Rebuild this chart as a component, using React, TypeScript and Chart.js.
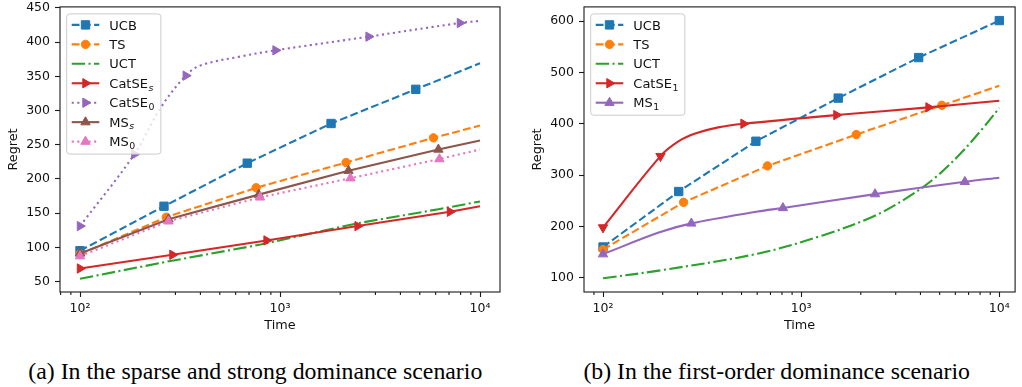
import React, { useEffect, useRef } from 'react';
import { Chart, registerables } from 'chart.js';

Chart.register(...registerables);

// ---------------- (a) sparse and strong dominance scenario ----------------
const A_UCB_T = [100, 263, 686, 1800, 4775, 10000];
const A_UCB_V = [95, 160, 223, 281, 331, 369];
const A_UCB_MARKS = [0, 1, 2, 3, 4];

const A_TS_T = [100, 270, 760, 2140, 5850, 10000];
const A_TS_V = [90, 144, 187, 224, 260, 278];
const A_TS_MARKS = [0, 1, 2, 3, 4];

const A_UCT_T = [100, 273, 800, 2430, 6300, 10000];
const A_UCT_V = [54, 79, 104, 135, 156, 167];
const A_UCT_MARKS: number[] = [];

const A_CATSES_T = [100, 290, 857, 2445, 7080, 10000];
const A_CATSES_V = [69, 89, 110, 131, 152, 160];
const A_CATSES_MARKS = [0, 1, 2, 3, 4];

const A_CATSE0_T = [100, 187, 253, 338, 401, 635, 950, 2775, 7940, 10000];
const A_CATSE0_V = [131, 236, 304, 351, 366, 379, 388, 408, 428, 431];
const A_CATSE0_MARKS = [0, 1, 3, 6, 7, 8];

const A_MSS_T = [100, 277, 783, 2200, 6195, 10000];
const A_MSS_V = [91, 141, 177, 212, 243, 256];
const A_MSS_MARKS = [0, 1, 2, 3, 4];

const A_MS0_T = [100, 277, 795, 2250, 6270, 10000];
const A_MS0_V = [87, 138, 173, 201, 229, 243];
const A_MS0_MARKS = [0, 1, 2, 3, 4];

const A_Y_TICKS = [50, 100, 150, 200, 250, 300, 350, 400, 450];

// ---------------- (b) first-order dominance scenario ----------------
const B_UCB_T = [100, 241, 591, 1538, 3918, 10000];
const B_UCB_V = [160, 268, 366, 450, 529, 601];
const B_UCB_MARKS = [0, 1, 2, 3, 4, 5];

const B_TS_T = [100, 255, 676, 1897, 5130, 10000];
const B_TS_V = [155, 247, 318, 379, 436, 474];
const B_TS_MARKS = [0, 1, 2, 3, 4];

const B_UCT_T = [100, 199, 603, 1294, 2296, 3366, 4745, 6443, 8414, 10000];
const B_UCT_V = [99, 115, 147, 183, 219, 254, 295, 344, 395, 431];
const B_UCT_MARKS: number[] = [];

const B_CATSE1_T = [100, 195, 241, 292, 381, 512, 1507, 4395, 10000];
const B_CATSE1_V = [198, 337, 366, 381, 393, 400, 417, 432, 445];
const B_CATSE1_MARKS = [0, 1, 5, 6, 7];
const B_CATSE1_ANGLES = [180, 180];

const B_MS1_T = [100, 191, 279, 603, 809, 2361, 6700, 10000];
const B_MS1_V = [146, 188, 206, 229, 236, 263, 287, 295];
const B_MS1_MARKS = [0, 2, 4, 5, 6];

const B_Y_TICKS = [100, 200, 300, 400, 500, 600];

// ---------------- axis ticks ----------------
const X_MAJOR = [100, 1000, 10000];
const X_MAJOR_LABELS = ['10²', '10³', '10⁴'];
const X_MINOR_MULT = [2, 3, 4, 5, 6, 7, 8, 9];
const X_MINOR_DECADES = [10, 100, 1000];

// ---------------- styles ----------------
const C_BLUE = '#1f77b4';
const C_ORANGE = '#ff7f0e';
const C_GREEN = '#2ca02c';
const C_RED = '#d62728';
const C_PURPLE = '#9467bd';
const C_BROWN = '#8c564b';
const C_PINK = '#e377c2';

const LW = 2.1;
const DASHED = [7.8, 3.4];
const DOTTED = [2.1, 3.5];
const DASHDOT = [13.4, 3.4, 2.1, 3.4];
const SOLID: number[] = [];

const AXIS_COLOR = '#1a1a1a';
const TEXT_COLOR = '#111';
const FONT_FAMILY = '"DejaVu Sans", Verdana, sans-serif';
const TICK_FONT = { family: FONT_FAMILY, size: 12.5, lineHeight: 1.2 };
const TITLE_FONT = { family: FONT_FAMILY, size: 12.8, lineHeight: 1.2 };
const LEGEND_SIZE = 13;

type Series = {
  label: string;
  t: number[];
  v: number[];
  marks: number[];
  color: string;
  dash: number[];
  marker: string | null;
  radius: number;
  rot: number;
  angles?: number[];
  smooth?: boolean;
};

const SERIES_A: Series[] = [
  { label: 'UCB', t: A_UCB_T, v: A_UCB_V, marks: A_UCB_MARKS, color: C_BLUE, dash: DASHED, marker: 'rect', radius: 5.9, rot: 0 },
  { label: 'TS', t: A_TS_T, v: A_TS_V, marks: A_TS_MARKS, color: C_ORANGE, dash: DASHED, marker: 'circle', radius: 4.2, rot: 0 },
  { label: 'UCT', t: A_UCT_T, v: A_UCT_V, marks: A_UCT_MARKS, color: C_GREEN, dash: DASHDOT, marker: null, radius: 0, rot: 0 },
  { label: 'CatSE_s', t: A_CATSES_T, v: A_CATSES_V, marks: A_CATSES_MARKS, color: C_RED, dash: SOLID, marker: 'triangle', radius: 5.4, rot: 90 },
  { label: 'CatSE_0', t: A_CATSE0_T, v: A_CATSE0_V, marks: A_CATSE0_MARKS, color: C_PURPLE, dash: DOTTED, marker: 'triangle', radius: 5.4, rot: 90, smooth: true },
  { label: 'MS_s', t: A_MSS_T, v: A_MSS_V, marks: A_MSS_MARKS, color: C_BROWN, dash: SOLID, marker: 'triangle', radius: 5.4, rot: 0 },
  { label: 'MS_0', t: A_MS0_T, v: A_MS0_V, marks: A_MS0_MARKS, color: C_PINK, dash: DOTTED, marker: 'triangle', radius: 5.4, rot: 0 },
];

const SERIES_B: Series[] = [
  { label: 'UCB', t: B_UCB_T, v: B_UCB_V, marks: B_UCB_MARKS, color: C_BLUE, dash: DASHED, marker: 'rect', radius: 5.9, rot: 0 },
  { label: 'TS', t: B_TS_T, v: B_TS_V, marks: B_TS_MARKS, color: C_ORANGE, dash: DASHED, marker: 'circle', radius: 4.2, rot: 0 },
  { label: 'UCT', t: B_UCT_T, v: B_UCT_V, marks: B_UCT_MARKS, color: C_GREEN, dash: DASHDOT, marker: null, radius: 0, rot: 0, smooth: true },
  { label: 'CatSE_1', t: B_CATSE1_T, v: B_CATSE1_V, marks: B_CATSE1_MARKS, color: C_RED, dash: SOLID, marker: 'triangle', radius: 5.4, rot: 90, angles: B_CATSE1_ANGLES, smooth: true },
  { label: 'MS_1', t: B_MS1_T, v: B_MS1_V, marks: B_MS1_MARKS, color: C_PURPLE, dash: SOLID, marker: 'triangle', radius: 5.4, rot: 0, smooth: true },
];

function makeDatasets(series: Series[]) {
  return series.map((s, i) => ({
    label: s.label,
    data: s.t.map((t, k) => ({ x: t, y: s.v[k] })),
    borderColor: s.color,
    backgroundColor: s.color,
    borderWidth: LW,
    borderDash: s.dash,
    borderCapStyle: 'butt',
    borderJoinStyle: 'round',
    pointStyle: s.marker || 'circle',
    pointRadius: (c: any) => (s.marker && s.marks.includes(c.dataIndex) ? s.radius : 0),
    pointHoverRadius: 0,
    pointRotation: (c: any) => (s.angles && s.angles[c.dataIndex] !== undefined ? s.angles[c.dataIndex] : s.rot),
    pointBorderWidth: 1,
    pointBorderColor: s.color,
    pointBackgroundColor: s.color,
    tension: s.smooth ? 0.35 : 0,
    cubicInterpolationMode: 'default',
    fill: false,
    order: -i,
    mplMarker: s.marker,
    mplRadius: s.radius,
    mplRot: s.rot,
  }));
}

function drawMarker(ctx: CanvasRenderingContext2D, style: string, x: number, y: number, r: number, rotDeg: number, color: string) {
  ctx.save();
  ctx.fillStyle = color;
  ctx.strokeStyle = color;
  ctx.lineWidth = 1;
  ctx.setLineDash([]);
  ctx.beginPath();
  if (style === 'rect') {
    const s = r * Math.SQRT1_2;
    ctx.rect(x - s, y - s, 2 * s, 2 * s);
  } else if (style === 'circle') {
    ctx.arc(x, y, r, 0, Math.PI * 2);
  } else if (style === 'triangle') {
    let rad = (rotDeg * Math.PI) / 180;
    ctx.moveTo(x + Math.sin(rad) * r, y - Math.cos(rad) * r);
    rad += (2 * Math.PI) / 3;
    ctx.lineTo(x + Math.sin(rad) * r, y - Math.cos(rad) * r);
    rad += (2 * Math.PI) / 3;
    ctx.lineTo(x + Math.sin(rad) * r, y - Math.cos(rad) * r);
    ctx.closePath();
  }
  ctx.fill();
  ctx.stroke();
  ctx.restore();
}

function splitLabel(label: string) {
  const k = label.indexOf('_');
  if (k < 0) return { base: label, sub: '' };
  return { base: label.slice(0, k), sub: label.slice(k + 1) };
}

const MAIN_FONT = `${LEGEND_SIZE}px ${FONT_FAMILY}`;
function subFont(sub: string) {
  const italic = /[a-z]/.test(sub) ? 'italic ' : '';
  return `${italic}${(LEGEND_SIZE * 0.72).toFixed(1)}px ${FONT_FAMILY}`;
}

function measureLabel(ctx: CanvasRenderingContext2D, label: string) {
  const { base, sub } = splitLabel(label);
  ctx.font = MAIN_FONT;
  let w = ctx.measureText(base).width;
  if (sub) {
    ctx.font = subFont(sub);
    w += ctx.measureText(sub).width + 0.5;
  }
  return w;
}

function drawLabel(ctx: CanvasRenderingContext2D, label: string, x: number, cy: number) {
  const { base, sub } = splitLabel(label);
  ctx.fillStyle = TEXT_COLOR;
  ctx.textBaseline = 'alphabetic';
  ctx.textAlign = 'left';
  ctx.font = MAIN_FONT;
  const baseline = cy + LEGEND_SIZE * 0.36;
  ctx.fillText(base, x, baseline);
  if (sub) {
    const w = ctx.measureText(base).width;
    ctx.font = subFont(sub);
    ctx.fillText(sub, x + w + 0.5, baseline + 2.6);
  }
}

const mplPlugin = {
  id: 'mplDecor',
  afterDatasetsDraw(chart: any) {
    const { ctx, chartArea: a } = chart;
    ctx.save();
    ctx.strokeStyle = AXIS_COLOR;
    ctx.lineWidth = 1.1;
    ctx.setLineDash([]);
    ctx.strokeRect(a.left, a.top, a.right - a.left, a.bottom - a.top);
    const xs = chart.scales.x;
    ctx.beginPath();
    for (const d of X_MINOR_DECADES) {
      for (const m of X_MINOR_MULT) {
        const v = d * m;
        if (v < xs.min || v > xs.max) continue;
        const px = xs.getPixelForValue(v);
        ctx.moveTo(px, a.bottom);
        ctx.lineTo(px, a.bottom + 2.9);
      }
    }
    ctx.stroke();
    ctx.restore();
  },
  afterDraw(chart: any) {
    const { ctx, chartArea: a } = chart;
    const ds = chart.data.datasets;
    ctx.save();
    const widths = ds.map((d: any) => measureLabel(ctx, d.label));
    const bx = a.left + 6.7;
    const by = a.top + 7;
    const rowH = 19.45;
    const bw = 42.6 + Math.max(...widths) + 6.5;
    const bh = 11 + (ds.length - 1) * rowH + 12.5;
    ctx.beginPath();
    const r = 3;
    ctx.moveTo(bx + r, by);
    ctx.lineTo(bx + bw - r, by);
    ctx.arcTo(bx + bw, by, bx + bw, by + r, r);
    ctx.lineTo(bx + bw, by + bh - r);
    ctx.arcTo(bx + bw, by + bh, bx + bw - r, by + bh, r);
    ctx.lineTo(bx + r, by + bh);
    ctx.arcTo(bx, by + bh, bx, by + bh - r, r);
    ctx.lineTo(bx, by + r);
    ctx.arcTo(bx, by, bx + r, by, r);
    ctx.closePath();
    ctx.fillStyle = 'rgba(255,255,255,0.8)';
    ctx.fill();
    ctx.strokeStyle = '#cccccc';
    ctx.lineWidth = 1;
    ctx.stroke();
    ds.forEach((d: any, i: number) => {
      const cy = by + 11 + i * rowH;
      ctx.save();
      ctx.strokeStyle = d.borderColor;
      ctx.lineWidth = d.borderWidth;
      ctx.lineCap = 'butt';
      ctx.setLineDash(d.borderDash || []);
      ctx.beginPath();
      ctx.moveTo(bx + 5, cy);
      ctx.lineTo(bx + 32.6, cy);
      ctx.stroke();
      ctx.restore();
      if (d.mplMarker) drawMarker(ctx, d.mplMarker, bx + 18.8, cy, d.mplRadius, d.mplRot, d.borderColor);
      drawLabel(ctx, d.label, bx + 42.6, cy);
    });
    ctx.restore();
  },
};

type PanelCfg = {
  series: Series[];
  xMin: number;
  xMax: number;
  yMin: number;
  yMax: number;
  yTicks: number[];
  yAxisWidth: number;
  yTitlePad: number;
  padRight: number;
};

function buildConfig(p: PanelCfg): any {
  return {
    type: 'line',
    data: { datasets: makeDatasets(p.series) },
    plugins: [mplPlugin],
    options: {
      responsive: false,
      animation: false,
      events: [],
      layout: { padding: { left: 0, right: p.padRight, top: 5, bottom: 0 } },
      plugins: { legend: { display: false }, tooltip: { enabled: false } },
      scales: {
        x: {
          type: 'logarithmic',
          min: p.xMin,
          max: p.xMax,
          bounds: 'data',
          afterBuildTicks: (s: any) => {
            s.ticks = X_MAJOR.map((v) => ({ value: v, major: true }));
          },
          afterFit: (s: any) => {
            s.height = 48;
            s.paddingLeft = 0;
            s.paddingRight = 0;
          },
          ticks: {
            autoSkip: false,
            maxRotation: 0,
            minRotation: 0,
            padding: 4,
            font: TICK_FONT,
            color: TEXT_COLOR,
            callback: (v: any) => {
              const k = X_MAJOR.indexOf(Number(v));
              return k >= 0 ? X_MAJOR_LABELS[k] : '';
            },
          },
          grid: {
            display: true,
            drawOnChartArea: false,
            drawTicks: true,
            tickLength: 5,
            tickWidth: 1.1,
            tickColor: AXIS_COLOR,
          },
          border: { display: false },
          title: { display: true, text: 'Time', font: TITLE_FONT, color: TEXT_COLOR, padding: { top: 0, bottom: 6.6 } },
        },
        y: {
          type: 'linear',
          min: p.yMin,
          max: p.yMax,
          bounds: 'data',
          afterBuildTicks: (s: any) => {
            s.ticks = p.yTicks.map((v) => ({ value: v }));
          },
          afterFit: (s: any) => {
            s.width = p.yAxisWidth;
            s.paddingTop = 0;
            s.paddingBottom = 0;
          },
          ticks: {
            padding: 5,
            font: TICK_FONT,
            color: TEXT_COLOR,
            callback: (v: any) => String(v),
          },
          grid: {
            display: true,
            drawOnChartArea: false,
            drawTicks: true,
            tickLength: 5,
            tickWidth: 1.1,
            tickColor: AXIS_COLOR,
          },
          border: { display: false },
          title: { display: true, text: 'Regret', font: TITLE_FONT, color: TEXT_COLOR, padding: { top: p.yTitlePad, bottom: 0 } },
        },
      },
    },
  };
}

const PANEL_A: PanelCfg = {
  series: SERIES_A,
  xMin: Math.pow(10, 1.9),
  xMax: Math.pow(10, 4.1),
  yMin: 34.6,
  yMax: 451.5,
  yTicks: A_Y_TICKS,
  yAxisWidth: 60,
  yTitlePad: 5.6,
  padRight: 10,
};

const PANEL_B: PanelCfg = {
  series: SERIES_B,
  xMin: Math.pow(10, 1.904),
  xMax: Math.pow(10, 4.0797),
  yMin: 72.3,
  yMax: 627.7,
  yTicks: B_Y_TICKS,
  yAxisWidth: 74,
  yTitlePad: 20.1,
  padRight: 1,
};

function Panel({ cfg, left, width }: { cfg: PanelCfg; left: number; width: number }) {
  const ref = useRef<HTMLCanvasElement | null>(null);
  useEffect(() => {
    if (!ref.current) return;
    const chart = new Chart(ref.current, buildConfig(cfg));
    return () => chart.destroy();
  }, [cfg]);
  return (
    <canvas
      ref={ref}
      width={width}
      height={340}
      style={{ position: 'absolute', left, top: 0, width, height: 340, display: 'block' }}
    />
  );
}

const CAPTION_A = '(a) In the sparse and strong dominance scenario';
const CAPTION_B = '(b) In the first-order dominance scenario';

const captionStyle = (center: number): React.CSSProperties => ({
  position: 'absolute',
  left: center - 300,
  width: 600,
  top: 359,
  height: 24,
  lineHeight: '24px',
  fontSize: '23.8px',
  fontFamily: '"Liberation Serif", "Times New Roman", serif',
  color: '#000',
  textAlign: 'center',
  whiteSpace: 'nowrap',
});

export default function App() {
  return (
    <div style={{ position: 'absolute', left: 0, top: 0, width: 1022, height: 387, background: '#fff', overflow: 'hidden' }}>
      <Panel cfg={PANEL_A} left={0} width={510} />
      <Panel cfg={PANEL_B} left={510} width={512} />
      <div style={captionStyle(255.3)}>{CAPTION_A}</div>
      <div style={captionStyle(776.7)}>{CAPTION_B}</div>
    </div>
  );
}
